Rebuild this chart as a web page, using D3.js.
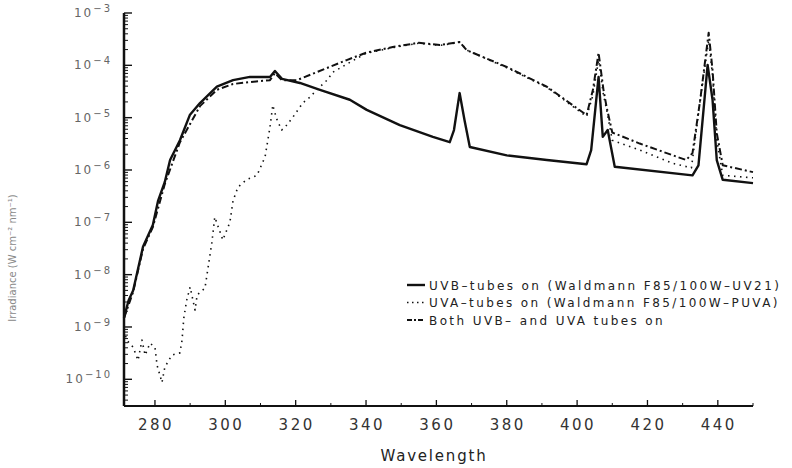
<!DOCTYPE html>
<html>
<head>
<meta charset="utf-8">
<script src="https://cdn.jsdelivr.net/npm/d3@7"></script>
<style>
  html, body { margin: 0; padding: 0; background: #fff; }
  svg { display: block; font-family: "DejaVu Sans", "Open Sans", sans-serif; }
</style>
</head>
<body>
<svg id="chart" width="792" height="468"></svg>
<script>
// Spectral irradiance of the fluorescent tube cabinet (W cm^-2 nm^-1)
const wavelengthUVB = [271.2,272.5,273.8,276.6,279.4,280.9,282.8,284.3,287.1,289.9,292.8,297.6,302.2,307,312.7,314.1,316.1,321.2,326.9,335.4,340.2,349.6,359,363.8,365,366.6,368,369.5,380,391.4,402.7,404,406.1,407.3,408.7,410.7,432.8,434.5,437.1,438.5,439.7,441.4,450];
const irradianceUVB = [1.5e-9,3.2e-9,5.0e-9,3.4e-8,8.9e-8,2.6e-7,5.9e-7,1.55e-6,3.7e-6,1.12e-5,1.9e-5,3.9e-5,5.2e-5,6.0e-5,6.0e-5,7.8e-5,5.5e-5,4.6e-5,3.4e-5,2.2e-5,1.41e-5,7.2e-6,4.3e-6,3.4e-6,5.8e-6,2.95e-5,8.9e-6,2.75e-6,1.9e-6,1.55e-6,1.29e-6,2.4e-6,6.0e-5,4.3e-6,5.8e-6,1.15e-6,7.9e-7,1.23e-6,1.02e-4,2.2e-5,1.55e-6,6.5e-7,5.6e-7];

const wavelengthUVA = [271.2,272,273.8,275.2,276.3,277.2,278.6,280,280.6,282,282.8,284.8,287.1,287.7,288.2,289,290,291.4,292,294.2,295,296.2,297,299.3,301.3,302.2,303.6,306,309,311.3,312.7,313.5,314.5,316,317,319.2,322,324,326,328.9,330.6,335,340,348,355,361,366.6,369,380,391.4,402.7,404.5,406.1,407.5,408.4,410,417.8,427,432.5,435,437.4,438.5,439.7,441.4,450];
const irradianceUVA = [8.7e-10,5.6e-10,4.1e-10,2.3e-10,5.6e-10,2.9e-10,4.9e-10,4.1e-10,1.86e-10,8.7e-11,1.7e-10,2.9e-10,3.2e-10,5.6e-10,1.48e-9,3.2e-9,5.8e-9,2.1e-9,4.1e-9,5.5e-9,1.23e-8,4.2e-8,1.26e-7,4.6e-8,1.0e-7,2.6e-7,4.7e-7,6.5e-7,7.9e-7,1.78e-6,6.6e-6,1.74e-5,9.8e-6,5.8e-6,6.6e-6,1.02e-5,1.9e-5,2.45e-5,3.4e-5,5.2e-5,7.4e-5,1.1e-4,1.7e-4,2.2e-4,2.65e-4,2.4e-4,2.75e-4,1.9e-4,9.0e-5,3.8e-5,1.05e-5,2.7e-5,1.26e-4,2.7e-5,1.41e-5,3.7e-6,2.4e-6,1.35e-6,1.1e-6,2.2e-5,3.0e-4,6.5e-5,3.7e-6,7.9e-7,7.1e-7];

const wavelengthBoth = [271.2,273.8,276.6,279.4,282.8,287.1,292.8,297.6,302.2,307,312.7,314.1,316.1,320.3,326,334.5,340,347.6,355,361,366.6,368.6,380,391.4,402.7,404.5,406.1,407.5,408.4,410,417.8,431,432.8,435,437.4,438.5,439.7,441.4,450];
const irradianceBoth = [1.48e-9,4.7e-9,3.1e-8,8.1e-8,5.4e-7,3.4e-6,1.66e-5,3.4e-5,4.4e-5,4.8e-5,5.2e-5,7.1e-5,5.2e-5,5.2e-5,7.4e-5,1.26e-4,1.74e-4,2.24e-4,2.7e-4,2.45e-4,2.8e-4,1.95e-4,9.3e-5,3.9e-5,1.12e-5,3.4e-5,1.74e-4,3.4e-5,1.58e-5,5.2e-6,3.2e-6,1.55e-6,2.1e-6,2.2e-5,4.2e-4,8.1e-5,5.1e-6,1.23e-6,9.1e-7];

const xTickValues = [280,300,320,340,360,380,400,420,440];
const yDecadeExponents = [-3,-4,-5,-6,-7,-8,-9,-10];
const legendLabels = [
  "UVB\u2013tubes on (Waldmann F85/100W\u2013UV21)",
  "UVA\u2013tubes on (Waldmann F85/100W\u2013PUVA)",
  "Both UVB\u2013 and UVA tubes on"
];

const width = 792, height = 468;
const margin = {top: 13, right: 39, bottom: 62, left: 124};
const svg = d3.select("#chart");

const x = d3.scaleLinear().domain([271.2, 450]).range([margin.left, width - margin.right]);
const y = d3.scaleLog().domain([Math.pow(10, -10.51), 1e-3]).range([height - margin.bottom, margin.top]);

const ink = "#111";

// x axis: ticks point inward, minor ticks every 10 nm
const xMinor = d3.range(280, 451, 10).filter(v => v % 20 !== 0);
const xAxis = svg.append("g").attr("transform", `translate(0,${height - margin.bottom})`);
xAxis.append("line").attr("x1", margin.left).attr("x2", width - margin.right)
  .attr("stroke", ink).attr("stroke-width", 2);
xAxis.selectAll(".maj").data(xTickValues).join("line")
  .attr("x1", d => x(d)).attr("x2", d => x(d)).attr("y1", 0).attr("y2", -6)
  .attr("stroke", ink).attr("stroke-width", 1.3);
xAxis.selectAll(".min").data(xMinor).join("line")
  .attr("x1", d => x(d)).attr("x2", d => x(d)).attr("y1", 0).attr("y2", -3)
  .attr("stroke", ink).attr("stroke-width", 1);
xAxis.selectAll("text").data(xTickValues).join("text")
  .attr("x", d => x(d) + 1).attr("y", 24)
  .attr("text-anchor", "middle").attr("font-size", 15).attr("fill", "#333")
  .attr("letter-spacing", 2.5)
  .text(d => d);

svg.append("text").attr("x", 434).attr("y", 461).attr("text-anchor", "middle")
  .attr("font-size", 15).attr("fill", "#222").attr("letter-spacing", 1.8)
  .text("Wavelength");

// y axis: log decades with inward minor ticks
const yAxis = svg.append("g").attr("transform", `translate(${margin.left},0)`);
yAxis.append("line").attr("y1", margin.top).attr("y2", height - margin.bottom)
  .attr("stroke", ink).attr("stroke-width", 2.5);
const yTicks = [];
for (let e = -11; e <= -4; e++) {
  for (let m = 1; m <= 9; m++) {
    const v = m * Math.pow(10, e);
    if (v >= y.domain()[0] && v <= y.domain()[1]) yTicks.push({v, major: m === 1});
  }
}
yTicks.push({v: 1e-3, major: true});
yAxis.selectAll(".yt").data(yTicks).join("line")
  .attr("x1", 0).attr("x2", d => d.major ? 8 : 4)
  .attr("y1", d => y(d.v)).attr("y2", d => y(d.v))
  .attr("stroke", ink).attr("stroke-width", d => d.major ? 1.4 : 1);

const yLabels = yAxis.selectAll(".yl").data(yDecadeExponents).join("text")
  .attr("x", -12).attr("y", d => y(Math.pow(10, d)) + 4)
  .attr("text-anchor", "end").attr("font-size", 12).attr("fill", "#666")
  .attr("letter-spacing", 2);
yLabels.append("tspan").text("10");
yLabels.append("tspan").attr("dy", -5).attr("font-size", 10).text(d => "\u2212" + Math.abs(d));

svg.append("text")
  .attr("transform", "translate(16,258) rotate(-90)")
  .attr("text-anchor", "middle").attr("font-size", 10).attr("fill", "#888")
  .text("Irradiance (W cm\u207B\u00B2 nm\u207B\u00B9)");

// spectra
const line = d3.line().x(d => x(d[0])).y(d => y(d[1]));
const series = [
  {wl: wavelengthUVA, val: irradianceUVA, width: 1.6, dash: "1.5,4.5"},
  {wl: wavelengthBoth, val: irradianceBoth, width: 2, dash: "7,3,2,3"},
  {wl: wavelengthUVB, val: irradianceUVB, width: 2.4, dash: null}
];
series.forEach(s => {
  svg.append("path")
    .datum(d3.zip(s.wl, s.val))
    .attr("fill", "none").attr("stroke", ink)
    .attr("stroke-width", s.width)
    .attr("stroke-linejoin", "round")
    .attr("stroke-dasharray", s.dash)
    .attr("d", line);
});

// legend
const legendStyles = [
  {width: 2.4, dash: null},
  {width: 1.6, dash: "1.5,3.5"},
  {width: 2, dash: "5,2,2,2"}
];
const legend = svg.append("g").attr("transform", "translate(407,285)");
legendLabels.forEach((label, i) => {
  const g = legend.append("g").attr("transform", `translate(0,${i * 17.5})`);
  g.append("line").attr("x1", 0).attr("x2", 18).attr("y1", 0).attr("y2", 0)
    .attr("stroke", ink).attr("stroke-width", legendStyles[i].width)
    .attr("stroke-dasharray", legendStyles[i].dash);
  g.append("text").attr("x", 22).attr("y", 4.5)
    .attr("font-size", 12).attr("fill", "#222").attr("letter-spacing", 2.4)
    .text(label);
});
</script>
</body>
</html>
